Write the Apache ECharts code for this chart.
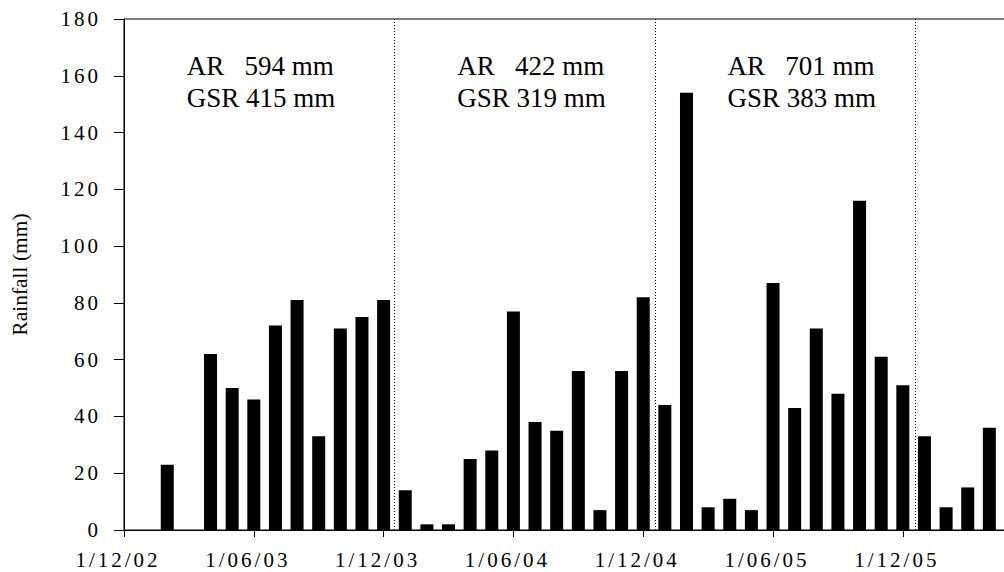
<!DOCTYPE html>
<html>
<head>
<meta charset="utf-8">
<title>Monthly rainfall</title>
<script src="https://cdn.jsdelivr.net/npm/echarts@6/dist/echarts.min.js"></script>
<style>
  html, body { margin: 0; padding: 0; background: #fff; overflow: hidden; }
  /* the plot runs slightly past the right edge of the page */
  #chart { width: 1011px; height: 572px; }
  #chart text { white-space: pre; }
</style>
</head>
<body>
<div id="chart"></div>
<script>
// Months covered by the axis (first day of each month)
const months = [
  '2002-12',
  '2003-01', '2003-02', '2003-03', '2003-04', '2003-05', '2003-06',
  '2003-07', '2003-08', '2003-09', '2003-10', '2003-11', '2003-12',
  '2004-01', '2004-02', '2004-03', '2004-04', '2004-05', '2004-06',
  '2004-07', '2004-08', '2004-09', '2004-10', '2004-11', '2004-12',
  '2005-01', '2005-02', '2005-03', '2005-04', '2005-05', '2005-06',
  '2005-07', '2005-08', '2005-09', '2005-10', '2005-11', '2005-12',
  '2006-01', '2006-02', '2006-03', '2006-04'
];

// Monthly rainfall (mm)
const rainfall = [
  null,
  0, 23, 0, 62, 50, 46, 72, 81, 33, 71, 75, 81,
  14, 2, 2, 25, 28, 77, 38, 35, 56, 7, 56, 82,
  44, 154, 8, 11, 7, 87, 43, 71, 48, 116, 61, 51,
  33, 8, 15, 36
];

// Date labels shown every six months along the x axis
const xTickLabels = ['1/12/02', '1/06/03', '1/12/03', '1/06/04', '1/12/04', '1/06/05', '1/12/05'];

// Dates of the dotted separators between the seasons
const seasonBreaks = ['2003-12-16', '2004-12-18', '2005-12-19'];

// Yearly totals: annual rainfall (AR) and growing-season rainfall (GSR)
const years = ['2003', '2004', '2005'];
const annualRain = [594, 422, 701];
const growingSeasonRain = [415, 319, 383];

// Layout: where each yearly note starts, in months along the axis
const noteStart = [2.9, 15.4, 27.9];

const FONT = '"Liberation Serif", "Times New Roman", serif';

const chart = echarts.init(document.getElementById('chart'), null, { renderer: 'svg' });

const barData = months.map((m, i) => [i, rainfall[i]]);

// Convert a date into a fractional month position on the axis
function monthPos(dateStr) {
  const [y, m, d] = dateStr.split('-').map(Number);
  const idx = months.indexOf(dateStr.slice(0, 7));
  const daysInMonth = new Date(y, m, 0).getDate();
  return idx + (d - 1) / daysInMonth;
}

const option = {
  animation: false,
  backgroundColor: '#fff',
  grid: {
    left: 124, right: 0, top: 19, bottom: 42,
    show: true, borderColor: '#000', borderWidth: 1,
    backgroundColor: 'transparent'
  },
  xAxis: [
    {
      type: 'value',
      min: 0,
      max: months.length,
      interval: 6,
      axisLine: { show: true, onZero: false, lineStyle: { color: '#000', width: 1 } },
      axisTick: { show: true, inside: false, length: 7, lineStyle: { color: '#000', width: 1 } },
      axisLabel: {
        show: true,
        color: '#000',
        fontFamily: FONT,
        fontSize: 21,
        margin: 19,
        padding: [0, 12, 0, 0],
        showMaxLabel: false,
        formatter: v => (v % 6 === 0 && xTickLabels[v / 6]) || ''
      },
      splitLine: { show: false }
    },
    {
      type: 'value',
      min: 0,
      max: months.length,
      interval: 2,
      axisLine: { show: false },
      axisTick: { show: true, inside: false, length: 4, lineStyle: { color: '#000', width: 1 } },
      axisLabel: { show: false },
      splitLine: { show: false }
    }
  ],
  yAxis: {
    type: 'value',
    min: 0,
    max: 180,
    interval: 20,
    name: 'Rainfall (mm)',
    nameLocation: 'middle',
    nameRotate: 90,
    nameGap: 93,
    nameTextStyle: { color: '#000', fontFamily: FONT, fontSize: 21.5 },
    axisLine: { show: true, lineStyle: { color: '#000', width: 1 } },
    axisTick: { show: true, inside: false, length: 10, lineStyle: { color: '#000', width: 1 } },
    axisLabel: { color: '#000', fontFamily: FONT, fontSize: 21, margin: 23 },
    splitLine: { show: false }
  },
  series: [
    {
      type: 'bar',
      xAxisIndex: 0,
      yAxisIndex: 0,
      data: barData,
      barWidth: 13,
      itemStyle: { color: '#000' },
      markLine: {
        silent: true,
        symbol: 'none',
        label: { show: false },
        lineStyle: { type: [1, 2], color: '#000', width: 1 },
        data: seasonBreaks.map(d => ({ xAxis: monthPos(d) }))
      }
    }
  ]
};

chart.setOption(option);

// Yearly rainfall notes placed along the month scale
const px = m => chart.convertToPixel({ xAxisIndex: 0 }, m);
chart.setOption({
  graphic: years.map((y, k) => ({
    type: 'text',
    x: px(noteStart[k]),
    y: 50,
    silent: true,
    style: {
      text: 'AR   ' + annualRain[k] + ' mm\nGSR ' + growingSeasonRain[k] + ' mm',
      font: '27px ' + FONT,
      fill: '#000',
      lineHeight: 32,
      align: 'left',
      verticalAlign: 'top'
    }
  }))
});

// Tick labels are drawn with wider letter spacing
const spacedLabels = new Set(xTickLabels.concat(
  Array.from({ length: 10 }, (_, i) => String(i * 20))
));
function spaceTickLabels() {
  chart.getDom().querySelectorAll('text').forEach(t => {
    if (spacedLabels.has(t.textContent.trim())) t.setAttribute('letter-spacing', '3px');
  });
}
spaceTickLabels();
chart.on('finished', spaceTickLabels);
</script>
</body>
</html>
